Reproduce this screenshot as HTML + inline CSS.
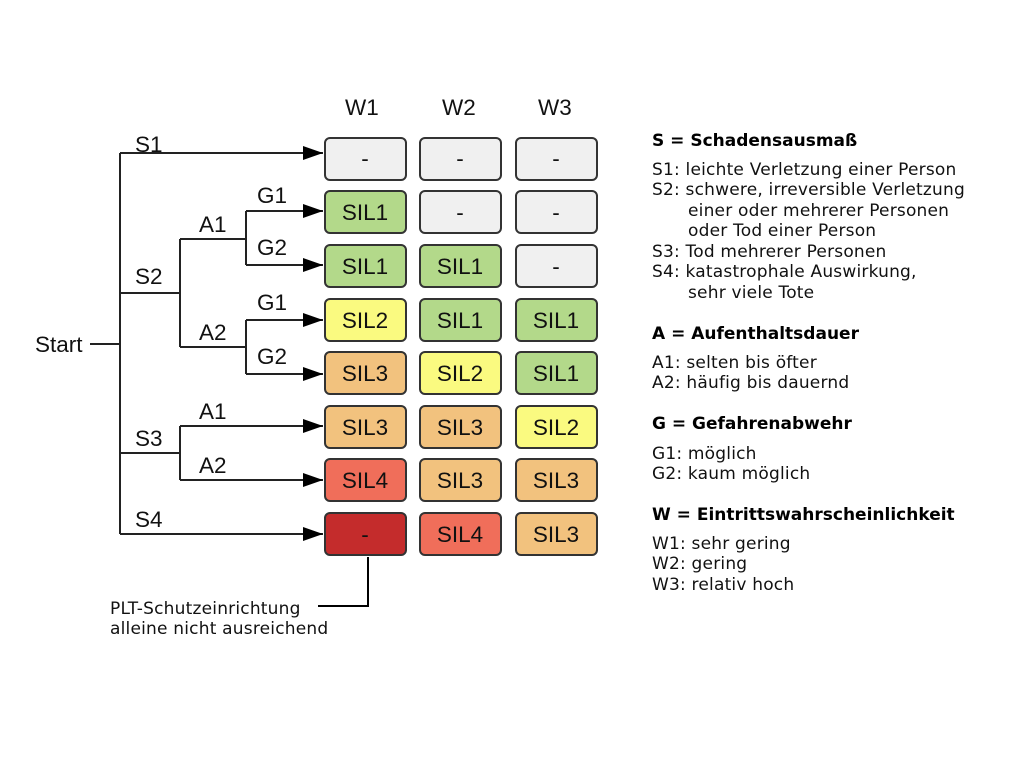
<!DOCTYPE html>
<html><head><meta charset="utf-8"><style>
body{margin:0;background:#fff;width:1024px;height:768px;overflow:hidden}
svg{display:block}
.l{font-family:"Liberation Sans",Arial,sans-serif;font-size:22.5px;fill:#111}
.v{font-family:"DejaVu Sans",Verdana,sans-serif;font-size:17px;letter-spacing:0.2px;fill:#111}
.b{font-family:"DejaVu Sans",Verdana,sans-serif;font-size:17px;font-weight:bold;fill:#000}
</style></head><body>
<svg width="1024" height="768" xmlns="http://www.w3.org/2000/svg">
<defs><marker id="a" markerWidth="20" markerHeight="14" refX="20" refY="7" orient="auto" markerUnits="userSpaceOnUse"><path d="M0,0 L20,7 L0,14 z" fill="#000"/></marker></defs>
<g stroke="#222" stroke-width="2" fill="none">
<path d="M90,344 H120 M120,153 V534 M120,293 H180 M180,239 V347 M180,239 H246 M246,211 V265 M180,347 H246 M246,320 V374 M120,453 H180 M180,426 V480"/>
<path d="M120,153 H323" marker-end="url(#a)"/>
<path d="M246,211 H323" marker-end="url(#a)"/>
<path d="M246,265 H323" marker-end="url(#a)"/>
<path d="M246,320 H323" marker-end="url(#a)"/>
<path d="M246,374 H323" marker-end="url(#a)"/>
<path d="M180,426 H323" marker-end="url(#a)"/>
<path d="M180,480 H323" marker-end="url(#a)"/>
<path d="M120,534 H323" marker-end="url(#a)"/>
<path d="M368,557 V606 H318" stroke="#000"/>
</g>
<g class="l">
<text x="35" y="352">Start</text>
<text x="135" y="152">S1</text><text x="135" y="284">S2</text><text x="135" y="446">S3</text><text x="135" y="527">S4</text>
<text x="199" y="232">A1</text><text x="199" y="340">A2</text><text x="199" y="419">A1</text><text x="199" y="473">A2</text>
<text x="257" y="203">G1</text><text x="257" y="255">G2</text><text x="257" y="310">G1</text><text x="257" y="364">G2</text>
<text x="345" y="115">W1</text><text x="442" y="115">W2</text><text x="538" y="115">W3</text>
</g>
<g stroke="#333" stroke-width="2" class="l" text-anchor="middle">
<rect x="325" y="138" width="81" height="42" rx="5" fill="#f0f0f0"/><rect x="420" y="138" width="81" height="42" rx="5" fill="#f0f0f0"/><rect x="516" y="138" width="81" height="42" rx="5" fill="#f0f0f0"/>
<rect x="325" y="191" width="81" height="42" rx="5" fill="#b3d98a"/><rect x="420" y="191" width="81" height="42" rx="5" fill="#f0f0f0"/><rect x="516" y="191" width="81" height="42" rx="5" fill="#f0f0f0"/>
<rect x="325" y="245" width="81" height="42" rx="5" fill="#b3d98a"/><rect x="420" y="245" width="81" height="42" rx="5" fill="#b3d98a"/><rect x="516" y="245" width="81" height="42" rx="5" fill="#f0f0f0"/>
<rect x="325" y="299" width="81" height="42" rx="5" fill="#fafa80"/><rect x="420" y="299" width="81" height="42" rx="5" fill="#b3d98a"/><rect x="516" y="299" width="81" height="42" rx="5" fill="#b3d98a"/>
<rect x="325" y="352" width="81" height="42" rx="5" fill="#f2c27e"/><rect x="420" y="352" width="81" height="42" rx="5" fill="#fafa80"/><rect x="516" y="352" width="81" height="42" rx="5" fill="#b3d98a"/>
<rect x="325" y="406" width="81" height="42" rx="5" fill="#f2c27e"/><rect x="420" y="406" width="81" height="42" rx="5" fill="#f2c27e"/><rect x="516" y="406" width="81" height="42" rx="5" fill="#fafa80"/>
<rect x="325" y="459" width="81" height="42" rx="5" fill="#f06e5a"/><rect x="420" y="459" width="81" height="42" rx="5" fill="#f2c27e"/><rect x="516" y="459" width="81" height="42" rx="5" fill="#f2c27e"/>
<rect x="325" y="513" width="81" height="42" rx="5" fill="#c42c2c"/><rect x="420" y="513" width="81" height="42" rx="5" fill="#f06e5a"/><rect x="516" y="513" width="81" height="42" rx="5" fill="#f2c27e"/>
<g stroke="none">
<text x="365" y="166">-</text><text x="460" y="166">-</text><text x="556" y="166">-</text>
<text x="365" y="220">SIL1</text><text x="460" y="220">-</text><text x="556" y="220">-</text>
<text x="365" y="274">SIL1</text><text x="460" y="274">SIL1</text><text x="556" y="274">-</text>
<text x="365" y="328">SIL2</text><text x="460" y="328">SIL1</text><text x="556" y="328">SIL1</text>
<text x="365" y="381">SIL3</text><text x="460" y="381">SIL2</text><text x="556" y="381">SIL1</text>
<text x="365" y="435">SIL3</text><text x="460" y="435">SIL3</text><text x="556" y="435">SIL2</text>
<text x="365" y="488">SIL4</text><text x="460" y="488">SIL3</text><text x="556" y="488">SIL3</text>
<text x="365" y="542">-</text><text x="460" y="542">SIL4</text><text x="556" y="542">SIL3</text>
</g></g>
<text class="v" x="110" y="614">PLT-Schutzeinrichtung</text>
<text class="v" x="110" y="634">alleine nicht ausreichend</text>
<text class="b" x="652" y="146">S = Schadensausmaß</text>
<g class="v">
<text x="652" y="175">S1: leichte Verletzung einer Person</text>
<text x="652" y="195">S2: schwere, irreversible Verletzung</text>
<text x="688" y="216">einer oder mehrerer Personen</text>
<text x="688" y="236">oder Tod einer Person</text>
<text x="652" y="257">S3: Tod mehrerer Personen</text>
<text x="652" y="277">S4: katastrophale Auswirkung,</text>
<text x="688" y="298">sehr viele Tote</text>
<text x="652" y="368">A1: selten bis öfter</text>
<text x="652" y="388">A2: häufig bis dauernd</text>
<text x="652" y="459">G1: möglich</text>
<text x="652" y="479">G2: kaum möglich</text>
<text x="652" y="549">W1: sehr gering</text>
<text x="652" y="569">W2: gering</text>
<text x="652" y="590">W3: relativ hoch</text>
</g>
<text class="b" x="652" y="339">A = Aufenthaltsdauer</text>
<text class="b" x="652" y="429">G = Gefahrenabwehr</text>
<text class="b" x="652" y="520">W = Eintrittswahrscheinlichkeit</text>
</svg>
</body></html>
